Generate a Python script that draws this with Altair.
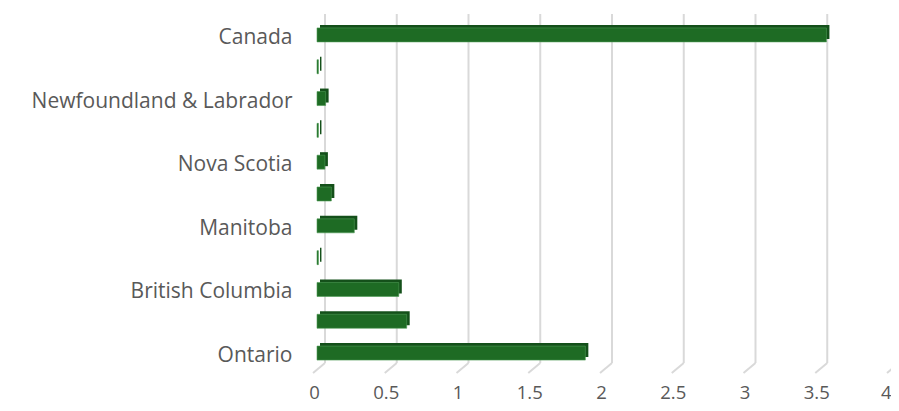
import altair as alt
import pandas as pd

regions = ["Canada", "Prince Edward Island", "Newfoundland & Labrador", "New Brunswick",
           "Nova Scotia", "Saskatchewan", "Manitoba", "Alberta", "British Columbia",
           "Quebec", "Ontario"]
values = [3.55, 0.01, 0.06, 0.01, 0.055, 0.10, 0.26, 0.01, 0.57, 0.625, 1.87]
shown_labels = ["Canada", "Newfoundland & Labrador", "Nova Scotia", "Manitoba",
                "British Columbia", "Ontario"]
tick_values = [0, 0.5, 1, 1.5, 2, 2.5, 3, 3.5, 4]

df = pd.DataFrame({"region": regions, "value": values})
grid = pd.DataFrame({"tick": tick_values})

FONT = "Open Sans"
TXT = "#595959"
label_list = "[" + ",".join("'" + s.replace("'", "\\'") + "'" for s in shown_labels) + "]"

xscale = alt.Scale(domain=[0, 4], nice=False, zero=True)
yscale = alt.Scale(domain=regions, paddingInner=0.5, paddingOuter=0.25)

xaxis = alt.Axis(values=tick_values, format="~g", grid=False, domain=False, ticks=False,
                 labelFont=FONT, labelFontSize=18.5, labelColor=TXT, labelPadding=29,
                 labelBaseline="alphabetic", labelFlush=False,
                 labelAlign=alt.condition("datum.value == 4", alt.value("right"), alt.value("center")),
                 labelOffset=alt.condition("datum.value == 4", alt.value(0), alt.value(-3)),
                 title=None)
yaxis = alt.Axis(domain=False, ticks=False, grid=False, labelFont=FONT, labelFontSize=21,
                 labelColor=TXT, labelPadding=25, labelOffset=3, title=None, labelLimit=400,
                 labelExpr=f"indexof({label_list}, datum.value) >= 0 ? datum.value : ''")

grid_v = alt.Chart(grid).mark_rule(color="#d9d9d9", strokeWidth=2, xOffset=8).encode(
    x=alt.X("tick:Q", scale=xscale, axis=xaxis),
    y=alt.value(-5),
    y2=alt.value(344),
)
grid_foot = alt.Chart(grid).mark_rule(color="#d9d9d9", strokeWidth=2, xOffset=8, x2Offset=-4).encode(
    x=alt.X("tick:Q", scale=xscale, axis=xaxis),
    x2="tick:Q",
    y=alt.value(344),
    y2=alt.value(354),
)

back = alt.Chart(df).mark_bar(size=14, color="#14501a", xOffset=3, yOffset=-3).encode(
    x=alt.X("value:Q", scale=xscale, axis=xaxis),
    y=alt.Y("region:N", scale=yscale, sort=regions, axis=yaxis),
)

front = alt.Chart(df).mark_bar(size=14, color="#1e6b24", stroke="#4f9a55", strokeWidth=0.6).encode(
    x=alt.X("value:Q", scale=xscale, axis=xaxis),
    y=alt.Y("region:N", scale=yscale, sort=regions, axis=yaxis),
)

chart = alt.layer(grid_v, grid_foot, back, front).properties(
    width=574, height=350,
    autosize=alt.AutoSizeParams(type="none"),
    padding={"left": 309, "top": 11, "right": 0, "bottom": 34},
).configure_view(stroke=None)

chart.save("out.html", embed_options={"renderer": "svg", "actions": False})
